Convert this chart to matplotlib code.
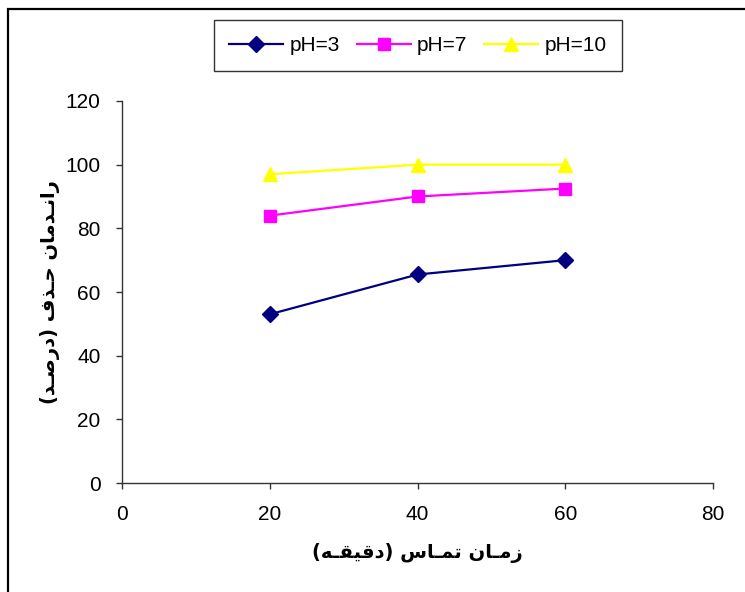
import matplotlib
matplotlib.use("Agg")
import matplotlib.pyplot as plt
from matplotlib.patches import Rectangle

# data
contact_time = [20, 40, 60]
removal_ph3 = [53, 65.5, 70]
removal_ph7 = [84, 90, 92.5]
removal_ph10 = [97, 100, 100]
series_labels = ["pH=3", "pH=7", "pH=10"]
x_ticks = [0, 20, 40, 60, 80]
y_ticks = [0, 20, 40, 60, 80, 100, 120]
x_label = "زمـان تمـاس (دقیقـه)"
y_label = "رانـدمان حـذف (درصـد)"

# matplotlib has no arabic shaping, so pick presentation forms by hand
# (isolated, final, initial, medial)
FORMS = {
    "ا": (0xFE8D, 0xFE8E, None, None),
    "ر": (0xFEAD, 0xFEAE, None, None),
    "ز": (0xFEAF, 0xFEB0, None, None),
    "د": (0xFEA9, 0xFEAA, None, None),
    "ذ": (0xFEAB, 0xFEAC, None, None),
    "ن": (0xFEE5, 0xFEE6, 0xFEE7, 0xFEE8),
    "م": (0xFEE1, 0xFEE2, 0xFEE3, 0xFEE4),
    "ح": (0xFEA1, 0xFEA2, 0xFEA3, 0xFEA4),
    "ف": (0xFED1, 0xFED2, 0xFED3, 0xFED4),
    "ص": (0xFEB9, 0xFEBA, 0xFEBB, 0xFEBC),
    "ت": (0xFE95, 0xFE96, 0xFE97, 0xFE98),
    "س": (0xFEB1, 0xFEB2, 0xFEB3, 0xFEB4),
    "ق": (0xFED5, 0xFED6, 0xFED7, 0xFED8),
    "ی": (0xFBFC, 0xFBFD, 0xFEF3, 0xFEF4),
    "ه": (0xFEE9, 0xFEEA, 0xFEEB, 0xFEEC),
    "ـ": (0x640, 0x640, 0x640, 0x640),
}


def joins_next(c):
    return c in FORMS and FORMS[c][2] is not None


def shape(text):
    out = []
    for i, c in enumerate(text):
        if c not in FORMS:
            out.append(c)
            continue
        prev = text[i - 1] if i > 0 else ""
        nxt = text[i + 1] if i + 1 < len(text) else ""
        p = joins_next(prev)
        n = joins_next(c) and nxt in FORMS
        iso, fin, ini, med = FORMS[c]
        if p and n:
            code = med
        elif p:
            code = fin
        elif n:
            code = ini
        else:
            code = iso
        out.append(chr(code))
    vis = "".join(reversed(out))
    return vis.translate(str.maketrans("()", ")("))


plt.rcParams["font.family"] = ["Liberation Sans", "DejaVu Sans"]

fig = plt.figure(figsize=(7.45, 5.92), dpi=100)
ax = fig.add_axes([0.1638, 0.1841, 0.7933, 0.6453])

ax.plot(contact_time, removal_ph3, color="#000080", lw=1.6, marker="D", ms=8,
        label=series_labels[0])
ax.plot(contact_time, removal_ph7, color="#FF00FF", lw=1.6, marker="s", ms=8,
        label=series_labels[1])
ax.plot(contact_time, removal_ph10, color="#FFFF00", lw=1.6, marker="^", ms=10,
        label=series_labels[2])

ax.set_xlim(0, 80)
ax.set_ylim(0, 120)
ax.set_xticks(x_ticks)
ax.set_yticks(y_ticks)
for s in ["top", "right"]:
    ax.spines[s].set_visible(False)
for s in ["left", "bottom"]:
    ax.spines[s].set_color("#333333")
    ax.spines[s].set_linewidth(1.0)
ax.tick_params(direction="out", length=4.5, width=1.0, color="#333333",
               labelsize=15, pad=11)

ax.set_xlabel(shape(x_label), family="DejaVu Sans", fontweight="bold",
              fontsize=14, labelpad=14)
ax.set_ylabel(shape(y_label), family="DejaVu Sans", fontweight="bold",
              fontsize=14, labelpad=4)

leg = fig.legend(loc="center", bbox_to_anchor=(0.561, 0.923), ncol=3,
                 fontsize=15, frameon=True, fancybox=False, handlelength=2.6,
                 handletextpad=0.3, columnspacing=0.8, borderpad=0.75)
leg.get_frame().set_edgecolor("black")
leg.get_frame().set_linewidth(1.0)

# outer chart-area border
fig.patches.append(Rectangle((8 / 745, -0.1), 1.2, 1 - 9 / 592 + 0.1,
                             transform=fig.transFigure, fill=False,
                             edgecolor="black", lw=1.6))

fig.savefig("out.png", dpi=100)
